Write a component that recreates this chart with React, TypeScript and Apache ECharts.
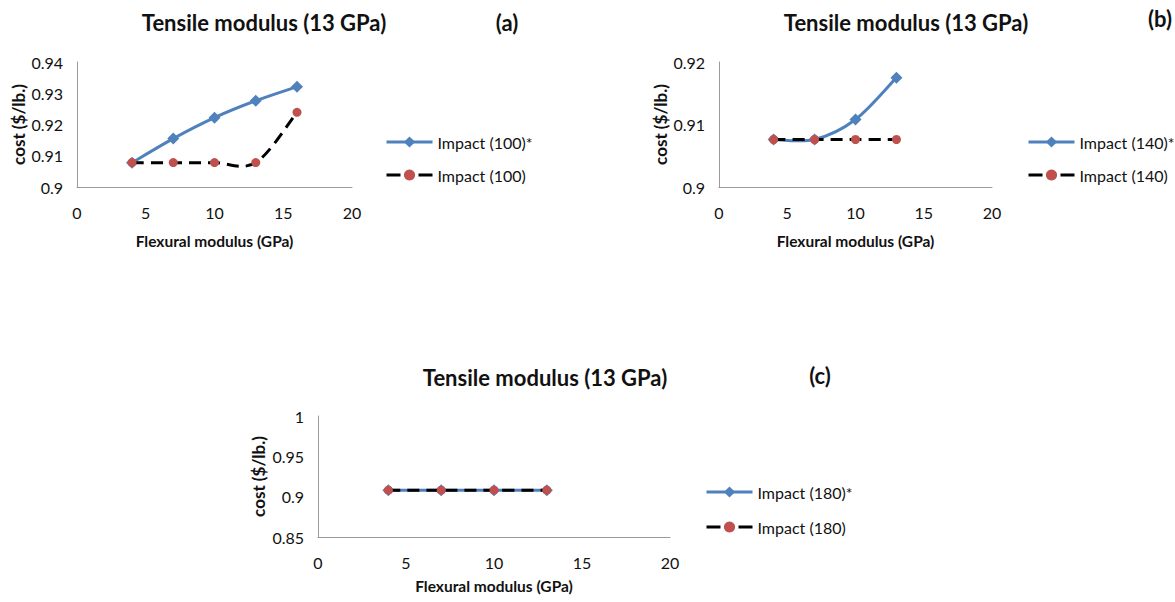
import React, { useEffect, useRef } from "react";
import * as echarts from "echarts";

// Flexural modulus (GPa) sample points per panel
const flexA = [4, 7, 10, 13, 16];
const flexB = [4, 7, 10, 13];
const flexC = [4, 7, 10, 13];

// cost ($/lb.) values
const impact100Star = [0.9078, 0.9155, 0.9222, 0.9276, 0.9321];
const impact100 = [0.9078, 0.9078, 0.9078, 0.9078, 0.9239];
const impact140Star = [0.9076, 0.9076, 0.9108, 0.9175];
const impact140 = [0.9076, 0.9076, 0.9076, 0.9076];
const impact180Star = [0.908, 0.908, 0.908, 0.908];
const impact180 = [0.908, 0.908, 0.908, 0.908];

const panelTitle = "Tensile modulus (13 GPa)";
const panelTags = ["(a)", "(b)", "(c)"];
const xName = "Flexural modulus (GPa)";
const yName = "cost ($/lb.)";

const FONT = "Lato, 'Liberation Sans', sans-serif";
const BLUE = "#4F81BD";
const RED = "#C0504D";
const AXIS = "#9a9a9a";
const TEXT = "#111";
const DASH = [12, 7];

const pairs = (xs: number[], ys: number[]) => xs.map((x, i) => [x, ys[i]]);

// Smoothed curve (cardinal spline, 1/6 tangent) through the points, in pixel space
const curveSeries = (
  xs: number[],
  ys: number[],
  i: number,
  color: string,
  dash: number[] | null,
  z: number
) => ({
  type: "custom",
  xAxisIndex: i,
  yAxisIndex: i,
  data: [[xs[0], ys[0]]],
  z,
  silent: true,
  renderItem: (_params: any, api: any) => {
    const pts = xs.map((x, k) => api.coord([x, ys[k]]));
    const n = pts.length;
    let d = `M${pts[0][0]},${pts[0][1]}`;
    for (let k = 0; k < n - 1; k++) {
      const p0 = pts[Math.max(k - 1, 0)];
      const p1 = pts[k];
      const p2 = pts[k + 1];
      const p3 = pts[Math.min(k + 2, n - 1)];
      const c1x = p1[0] + (p2[0] - p0[0]) / 6;
      const c1y = p1[1] + (p2[1] - p0[1]) / 6;
      const c2x = p2[0] - (p3[0] - p1[0]) / 6;
      const c2y = p2[1] - (p3[1] - p1[1]) / 6;
      d += ` C${c1x},${c1y} ${c2x},${c2y} ${p2[0]},${p2[1]}`;
    }
    return {
      type: "path",
      shape: { pathData: d },
      style: {
        fill: "none",
        stroke: color,
        lineWidth: 3,
        lineDash: dash || undefined,
        lineCap: "butt",
        lineJoin: "round",
      },
    };
  },
});

export default function App() {
  const ref = useRef<HTMLDivElement>(null);

  useEffect(() => {
    if (!ref.current) return;
    const chart = echarts.init(ref.current, undefined, { renderer: "svg" });

    const grids = [
      { left: 77, top: 62, width: 275, height: 125 },
      { left: 719, top: 62, width: 273, height: 125 },
      { left: 318, top: 416, width: 352, height: 121 },
    ];
    const yRanges = [
      { min: 0.9, max: 0.94, interval: 0.01 },
      { min: 0.9, max: 0.92, interval: 0.01 },
      { min: 0.85, max: 1, interval: 0.05 },
    ];
    const xNameGaps = [46, 46, 41];
    const yNameGaps = [50, 50, 51];

    const xAxis = grids.map((_, i) => ({
      type: "value",
      gridIndex: i,
      min: 0,
      max: 20,
      interval: 5,
      name: xName,
      nameLocation: "middle",
      nameGap: xNameGaps[i],
      nameTextStyle: { fontFamily: FONT, fontWeight: "bold", fontSize: 15.5, color: TEXT },
      axisLine: { show: true, lineStyle: { color: AXIS, width: 1 } },
      axisTick: { show: false },
      splitLine: { show: false },
      axisLabel: { fontFamily: FONT, fontSize: 16, color: TEXT, margin: 17 },
    }));

    const yAxis = yRanges.map((r, i) => ({
      type: "value",
      gridIndex: i,
      min: r.min,
      max: r.max,
      interval: r.interval,
      name: yName,
      nameLocation: "middle",
      nameGap: yNameGaps[i],
      nameRotate: 90,
      nameTextStyle: { fontFamily: FONT, fontWeight: "bold", fontSize: 17, color: TEXT },
      axisLine: { show: true, lineStyle: { color: AXIS, width: 1 } },
      axisTick: { show: false },
      splitLine: { show: false },
      axisLabel: { fontFamily: FONT, fontSize: 16, color: TEXT, margin: 14 },
    }));

    // Marker-only line series (the curves are drawn by the custom series)
    const starMarks = (name: string, xs: number[], ys: number[], i: number) => ({
      name,
      type: "line",
      xAxisIndex: i,
      yAxisIndex: i,
      data: pairs(xs, ys),
      symbol: "diamond",
      symbolSize: 12,
      showAllSymbol: true,
      lineStyle: { color: BLUE, width: 3, opacity: 0 },
      itemStyle: { color: BLUE },
      z: 2,
    });
    const plainMarks = (name: string, xs: number[], ys: number[], i: number) => ({
      name,
      type: "line",
      xAxisIndex: i,
      yAxisIndex: i,
      data: pairs(xs, ys),
      symbol: "circle",
      symbolSize: 9,
      showAllSymbol: true,
      lineStyle: { color: "#000", width: 3, opacity: 0 },
      itemStyle: { color: RED },
      z: 4,
    });

    const series = [
      curveSeries(flexA, impact100Star, 0, BLUE, null, 1),
      starMarks("Impact (100)*", flexA, impact100Star, 0),
      curveSeries(flexA, impact100, 0, "#000", DASH, 3),
      plainMarks("Impact (100)", flexA, impact100, 0),
      curveSeries(flexB, impact140Star, 1, BLUE, null, 1),
      starMarks("Impact (140)*", flexB, impact140Star, 1),
      curveSeries(flexB, impact140, 1, "#000", DASH, 3),
      plainMarks("Impact (140)", flexB, impact140, 1),
      curveSeries(flexC, impact180Star, 2, BLUE, null, 1),
      starMarks("Impact (180)*", flexC, impact180Star, 2),
      curveSeries(flexC, impact180, 2, "#000", DASH, 3),
      plainMarks("Impact (180)", flexC, impact180, 2),
    ];

    const legendPos = [
      { left: 385, top: 134, gap: 17, names: ["Impact (100)*", "Impact (100)"] },
      { left: 1027, top: 134, gap: 17, names: ["Impact (140)*", "Impact (140)"] },
      { left: 705, top: 484, gap: 19, names: ["Impact (180)*", "Impact (180)"] },
    ];
    const legend = legendPos.map((l) => ({
      left: l.left,
      top: l.top,
      padding: 0,
      orient: "vertical",
      data: [
        { name: l.names[0], lineStyle: { color: BLUE, width: 3, opacity: 1, type: "solid" } },
        { name: l.names[1], lineStyle: { color: "#000", width: 3, opacity: 1, type: [14, 18] } },
      ],
      itemWidth: 46,
      itemHeight: 14,
      itemGap: l.gap,
      selectedMode: false,
      textStyle: { fontFamily: FONT, fontSize: 16, color: TEXT },
    }));

    const titleText = (x: number, y: number, text: string, size: number) => ({
      type: "text",
      x,
      y,
      style: {
        text,
        fontFamily: FONT,
        fontWeight: "bold",
        fontSize: size,
        fill: TEXT,
        textAlign: "center",
        textVerticalAlign: "middle",
      },
    });

    chart.setOption({
      animation: false,
      backgroundColor: "#fff",
      grid: grids,
      xAxis,
      yAxis,
      series,
      legend,
      graphic: [
        titleText(264, 22, panelTitle, 22),
        titleText(507, 22, panelTags[0], 22),
        titleText(906, 22, panelTitle, 22),
        titleText(1160, 18, panelTags[1], 22),
        titleText(545, 377, panelTitle, 22),
        titleText(820, 375, panelTags[2], 22),
      ],
    });

    return () => chart.dispose();
  }, []);

  return (
    <div
      ref={ref}
      style={{ position: "fixed", left: 0, top: 0, width: 1175, height: 602 }}
    />
  );
}
